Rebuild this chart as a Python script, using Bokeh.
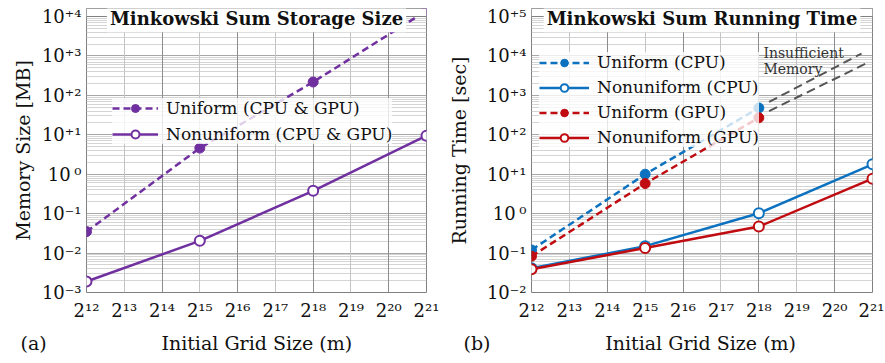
from bokeh.plotting import figure
from bokeh.models import (Range1d, FixedTicker, Grid, Label, Legend, LegendItem,
                          BoxAnnotation, Span, Title)
from bokeh.layouts import row
from bokeh.embed import file_html
from bokeh.resources import INLINE

# ---------------- data ----------------
grid_sizes = [2**12, 2**15, 2**18, 2**21]
grid_sizes_uniform = [2**12, 2**15, 2**18]

mem_uniform = [0.035, 4.6, 218, 14000]
mem_nonuniform = [0.0019, 0.0204, 0.38, 9.5]

time_uniform_cpu = [0.12, 10, 480]
time_nonuniform_cpu = [0.041, 0.15, 1.02, 17.8]
time_uniform_gpu = [0.083, 5.8, 270]
time_nonuniform_gpu = [0.039, 0.134, 0.47, 7.7]

extrap_x = [2**18.27, 2**20.71]
extrap_upper = [680, 11500]
extrap_x_low = [2**18.27, 2**20.87]
extrap_lower = [400, 6700]

x_powers = list(range(12, 22))
left_decades = list(range(-3, 5))
right_decades = list(range(-2, 6))

PURPLE = "#7030a0"
BLUE = "#0c72c0"
RED = "#c00c10"
FONT = "DejaVu Serif"
TXT = "#111111"
TOP_EXTRA = 8 / 39.43   # frame extends 8px above the top decade (room for the title box)
NBSP = "\u00a0"

SUP = str.maketrans("0123456789+-", "⁰¹²³⁴⁵⁶⁷⁸⁹⁺⁻")


def ylab(d):
    if d == 0:
        return "10\u2009⁰"
    s = ("+%d" % d) if d > 0 else ("-%d" % (-d))
    return "10" + s.translate(SUP)


def make_fig(decades, ylabel, width, border_left, border_right, ylab_standoff):
    top = decades[-1]
    p = figure(width=width, height=360, x_axis_type="log", y_axis_type="log",
               output_backend="svg", toolbar_location=None,
               x_range=Range1d(2**12, 2**21),
               y_range=Range1d(10.0**decades[0], 10.0**(top + TOP_EXTRA)),
               min_border_left=border_left, min_border_right=border_right,
               min_border_top=8, min_border_bottom=68)
    p.background_fill_color = "white"
    p.border_fill_color = "white"
    p.outline_line_color = "#808080"
    p.outline_line_width = 1

    majors = [10.0**d for d in decades]
    minors = [k * 10.0**d for d in decades[:-1] for k in range(2, 10)]
    p.yaxis.ticker = FixedTicker(ticks=majors, minor_ticks=minors)
    p.yaxis.major_label_overrides = {10.0**d: ylab(d) for d in decades}
    xt = [2**k for k in x_powers]
    p.xaxis.ticker = FixedTicker(ticks=xt, minor_ticks=[])
    p.xaxis.major_label_overrides = {2**k: "2" + str(k).translate(SUP) for k in x_powers}

    for ax in (p.xaxis, p.yaxis):
        ax.axis_line_color = None
        ax.major_tick_line_color = None
        ax.minor_tick_line_color = None
        ax.major_tick_out = 0
        ax.minor_tick_out = 0
        ax.major_tick_in = 0
        ax.minor_tick_in = 0
        ax.major_label_text_font = FONT
        ax.major_label_text_color = TXT
        ax.major_label_text_font_size = "18px"
        ax.axis_label_text_font = FONT
        ax.axis_label_text_font_style = "normal"
        ax.axis_label_text_color = TXT
        ax.axis_label_text_font_size = "19px"
    p.yaxis.major_label_standoff = 5
    p.xaxis.major_label_standoff = 7
    p.yaxis.axis_label = ylabel
    p.yaxis.axis_label_standoff = ylab_standoff

    p.ygrid.grid_line_color = "#a8a8a8"
    p.ygrid.grid_line_width = 1
    p.ygrid.minor_grid_line_color = "#d4d4d4"
    p.ygrid.minor_grid_line_width = 1
    p.xgrid.grid_line_color = None

    even = Grid(dimension=0, ticker=FixedTicker(ticks=[2**k for k in x_powers if k % 2 == 0]),
                grid_line_color="#8c8c8c", grid_line_width=1)
    odd = Grid(dimension=0, ticker=FixedTicker(ticks=[2**k for k in x_powers if k % 2 == 1]),
               grid_line_color="#c4c4c4", grid_line_width=1)
    p.add_layout(even)
    p.add_layout(odd)
    return p


def finish_top(p, text, top_decade):
    # white strip above the top decade, top frame line, then the title box
    p.add_layout(BoxAnnotation(bottom=10.0**top_decade, fill_color="white", fill_alpha=1.0,
                               line_color=None))
    p.add_layout(Span(location=10.0**top_decade, dimension="width",
                      line_color="#808080", line_width=1))
    p.add_layout(Label(x=2**16.5, y=10**(top_decade - 0.06), text=text,
                       text_align="center", text_baseline="middle",
                       text_font=FONT, text_font_style="bold", text_font_size="18px",
                       text_color=TXT, background_fill_color="white",
                       background_fill_alpha=1.0, padding=3))


def series(p, xs, ys, color, dashed, filled):
    dash = "7 4" if dashed else "solid"
    ln = p.line(xs, ys, line_color=color, line_width=2.5, line_dash=dash)
    if filled:
        sc = p.scatter(xs, ys, size=10, fill_color=color, line_color=color, line_width=1)
    else:
        sc = p.scatter(xs, ys, size=10, fill_color="white", line_color=color, line_width=2)
    return [ln, sc]


def style_legend(leg, x, y, lh, spacing, gw):
    leg.location = (x, y)
    leg.background_fill_color = "white"
    leg.background_fill_alpha = 0.78
    leg.border_line_color = None
    leg.label_text_font = FONT
    leg.label_text_font_size = "17px"
    leg.label_text_color = TXT
    leg.label_height = lh
    leg.glyph_height = lh
    leg.glyph_width = gw
    leg.label_standoff = 8
    leg.spacing = spacing
    leg.padding = 5
    leg.margin = 0


def bottom_row(p, tag, offset, gap):
    p.add_layout(Title(text=tag + NBSP * gap + "Initial Grid Size (m)", align="left",
                       offset=offset, standoff=12, text_font=FONT,
                       text_font_style="normal", text_font_size="19px",
                       text_color=TXT), "below")


# ---------------- left: storage ----------------
p1 = make_fig(left_decades, "Memory Size [MB]", 440, 86, 14, 5)
r_u = series(p1, grid_sizes, mem_uniform, PURPLE, True, True)
r_n = series(p1, grid_sizes, mem_nonuniform, PURPLE, False, False)
finish_top(p1, "Minkowski Sum Storage Size", left_decades[-1])
leg1 = Legend(items=[LegendItem(label="Uniform (CPU & GPU)", renderers=r_u),
                     LegendItem(label="Nonuniform (CPU & GPU)", renderers=r_n)])
style_legend(leg1, 26, 148, 20, 6, 46)
p1.add_layout(leg1)
bottom_row(p1, "(a)", -66, 19)

# ---------------- right: running time ----------------
p2 = make_fig(right_decades, "Running Time [sec]", 444, 91, 12, 14)
p2.line(extrap_x, extrap_upper, line_color="#555555", line_width=2, line_dash="9 5")
p2.line(extrap_x_low, extrap_lower, line_color="#555555", line_width=2, line_dash="9 5")
r1 = series(p2, grid_sizes_uniform, time_uniform_cpu, BLUE, True, True)
r2 = series(p2, grid_sizes, time_nonuniform_cpu, BLUE, False, False)
r3 = series(p2, grid_sizes_uniform, time_uniform_gpu, RED, True, True)
r4 = series(p2, grid_sizes, time_nonuniform_gpu, RED, False, False)
finish_top(p2, "Minkowski Sum Running Time", right_decades[-1])
leg2 = Legend(items=[LegendItem(label="Uniform (CPU)", renderers=r1),
                     LegendItem(label="Nonuniform (CPU)", renderers=r2),
                     LegendItem(label="Uniform (GPU)", renderers=r3),
                     LegendItem(label="Nonuniform (GPU)", renderers=r4)])
style_legend(leg2, 8, 145, 19, 5, 50)
p2.add_layout(leg2)
for txt, yy in (("Insufficient", 4.07), ("Memory", 3.67)):
    p2.add_layout(Label(x=2**18.12, y=10**yy, text=txt, text_align="left",
                        text_baseline="middle", text_font=FONT, text_font_size="14px",
                        text_color="#333333"))
bottom_row(p2, "(b)", -68, 19)

layout = row(p1, p2)
open("out.html", "w").write(file_html(layout, INLINE))
